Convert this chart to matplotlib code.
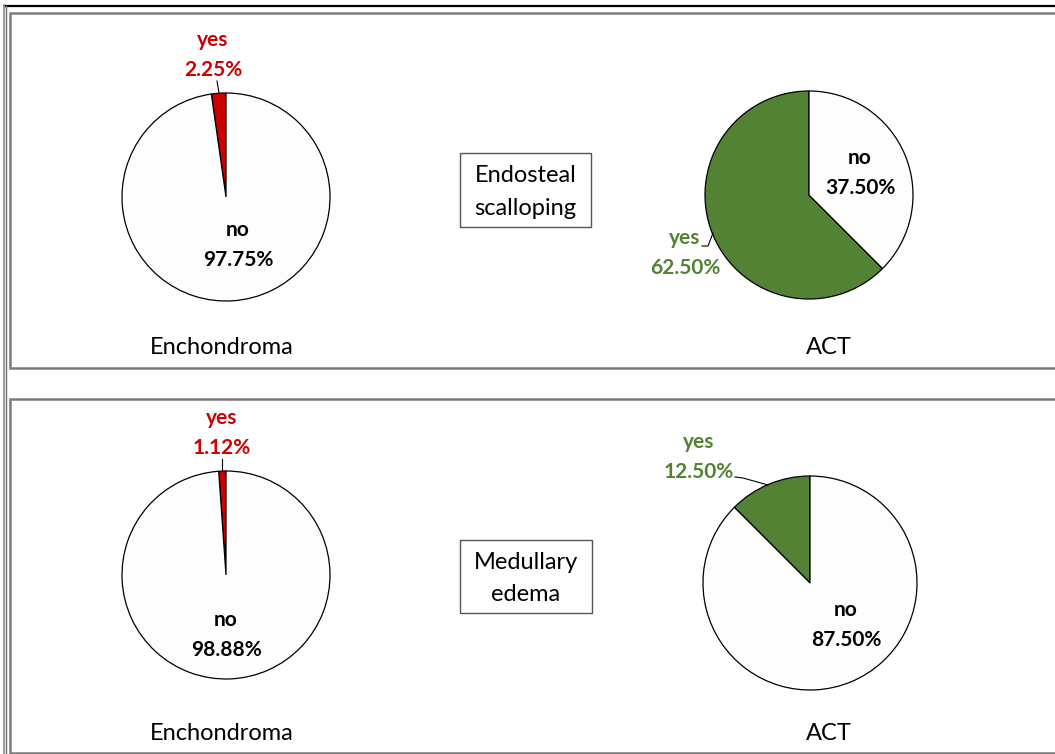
import matplotlib
matplotlib.use("Agg")
import matplotlib.pyplot as plt
from matplotlib.patches import Rectangle

plt.rcParams['font.family'] = ['Lato', 'DejaVu Sans']

# Data
features = ["Endosteal\nscalloping", "Medullary\nedema"]
groups = ["Enchondroma", "ACT"]
yes_pct = [[2.25, 62.50], [1.12, 12.50]]
no_pct = [[97.75, 37.50], [98.88, 87.50]]
slice_names = ["yes", "no"]

W, H = 1055, 754
RED = "#CC0000"
GREEN = "#548235"
yes_colors = [RED, GREEN]

fig = plt.figure(figsize=(W / 100, H / 100), dpi=100)
ax = fig.add_axes([0, 0, 1, 1])


def Y(y):
    # pixel row (from top) -> data y
    return H - y


# Layout (pixel positions measured from the top-left corner)
pie_centers = [[(226, 197), (809, 195)], [(226, 575), (810, 583)]]
pie_radius = [[104, 104], [104, 107]]
group_label_pos = [[(222, 348), (829, 348)], [(222, 734), (829, 734)]]
feature_box = [(460, 153, 131, 74), (460, 540, 132, 73)]
yes_label_pos = [[(213, 55), (685, 253)], [(222, 433), (699, 457)]]
no_label_pos = [[(238, 245), (860, 173)], [(226, 635), (846, 625)]]
leaders = [[[(217, 81), (219, 93)], [(702, 246), (708, 246), (713, 233)]],
           [[(222, 459), (222, 471)], [(735, 477), (743, 478), (768, 485)]]]
panels = [(9.5, 12.5, 1100, 355), (9.5, 398.5, 1100, 354)]

LABEL_SIZE = 15
TEXT_SIZE = 17

# Outer frame
ax.plot([4, W], [Y(6), Y(6)], color="black", lw=1.6, solid_capstyle="butt")
ax.plot([3.5, 3.5], [Y(5), Y(H + 2)], color="#8c8c8c", lw=1.2)
ax.plot([5.5, 5.5], [Y(6), Y(H + 2)], color="#6e6e6e", lw=1.0)

for r in range(2):
    px, py, pw, ph = panels[r]
    ax.add_patch(Rectangle((px, Y(py + ph)), pw, ph, facecolor="white",
                           edgecolor="#7a7a7a", lw=1.8, zorder=1))
    for c in range(2):
        cx, cy = pie_centers[r][c]
        rad = pie_radius[r][c]
        vals = [yes_pct[r][c], no_pct[r][c]]
        wedges, _ = ax.pie(vals, center=(cx, Y(cy)), radius=rad,
                           startangle=90, counterclock=True,
                           colors=[yes_colors[c], "#FDFDFD"],
                           wedgeprops=dict(edgecolor="black", linewidth=0.9),
                           frame=True)
        for w in wedges:
            w.set_zorder(3)
        col = yes_colors[c]
        yx, yy = yes_label_pos[r][c]
        ax.text(yx, Y(yy), f"{slice_names[0]}\n{yes_pct[r][c]:.2f}%",
                color=col, fontsize=LABEL_SIZE, fontweight="bold",
                ha="center", va="center", linespacing=1.62, zorder=5)
        nx, ny = no_label_pos[r][c]
        ax.text(nx, Y(ny), f"{slice_names[1]}\n{no_pct[r][c]:.2f}%",
                color="black", fontsize=LABEL_SIZE, fontweight="bold",
                ha="center", va="center", linespacing=1.62, zorder=5)
        pts = leaders[r][c]
        ax.plot([p[0] for p in pts], [Y(p[1]) for p in pts],
                color="black", lw=0.8, zorder=4)
        gx, gy = group_label_pos[r][c]
        ax.text(gx, Y(gy), groups[c], fontsize=TEXT_SIZE, ha="center",
                va="center", color="black", zorder=5)
    bx, by, bw, bh = feature_box[r]
    ax.add_patch(Rectangle((bx, Y(by + bh)), bw, bh, facecolor="white",
                           edgecolor="#555555", lw=1.0, zorder=4))
    ax.text(bx + bw / 2, Y(by + bh / 2 + 2), features[r], fontsize=TEXT_SIZE,
            ha="center", va="center", linespacing=1.7, zorder=5)

ax.set_xlim(0, W)
ax.set_ylim(0, H)
ax.set_aspect("auto")
ax.axis("off")

fig.savefig("out.png", dpi=100)
